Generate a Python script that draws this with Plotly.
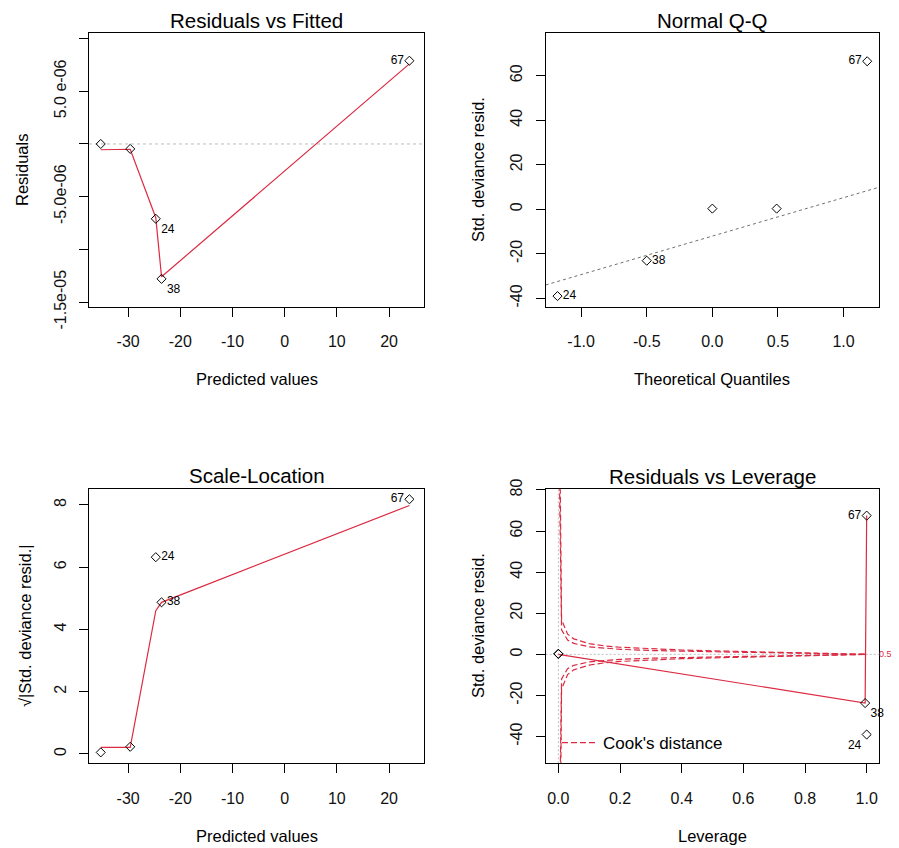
import plotly.graph_objects as go

# ---------------- data ----------------
fitted = [-35.25, -29.6, -24.7, -23.6, 23.9]
residuals = [0.0, -0.47e-6, -7.1e-6, -12.8e-6, 7.9e-6]
resid_smooth = [-0.55e-6, -0.5e-6, -7.0e-6, -12.6e-6, 7.6e-6]
point_ids = ["", "", "24", "38", "67"]

theo_q = [-1.18, -0.50, 0.0, 0.49, 1.18]
std_dev_resid_sorted = [-39.0, -23.1, 0.3, 0.3, 66.5]
qq_ids = ["24", "38", "", "", "67"]
qq_line_x = [-1.27, 1.27]
qq_line_y = [-34.0, 9.9]

sqrt_abs_resid = [0.05, 0.23, 6.32, 4.87, 8.18]
scale_smooth = [0.21, 0.21, 4.6, 4.87, 7.98]

leverage = [0.0, 0.0, 1.0, 0.995, 1.0]
std_dev_resid = [0.3, 0.2, -39.0, -23.7, 67.5]
lev_smooth_x = [0.0, 0.995, 1.0]
lev_smooth_y = [0.0, -23.7, 67.5]

cook_h = [0.0001, 0.0105, 0.03, 0.05, 0.1, 0.15, 0.2, 0.3, 0.4, 0.5, 0.6, 0.7, 0.8, 0.9, 1.0]
cook_05 = [122, 11.9, 6.96, 5.34, 3.67, 2.92, 2.45, 1.87, 1.5, 1.22, 1.0, 0.80, 0.61, 0.41, 0.0]
cook_1 = [173, 16.8, 9.85, 7.55, 5.2, 4.12, 3.46, 2.65, 2.12, 1.73, 1.41, 1.13, 0.87, 0.58, 0.0]

x_fit_ticks = [-30, -20, -10, 0, 10, 20]
x_fit_labels = ["-30", "-20", "-10", "0", "10", "20"]
y1_ticks = [1e-5, 5e-6, 0, -5e-6, -1e-5, -1.5e-5]
y1_labels = ["", "5.0 e-06", "", "-5.0e-06", "", "-1.5e-05"]
x2_ticks = [-1.0, -0.5, 0.0, 0.5, 1.0]
x2_labels = ["-1.0", "-0.5", "0.0", "0.5", "1.0"]
y2_ticks = [-40, -20, 0, 20, 40, 60]
y2_labels = ["-40", "-20", "0", "20", "40", "60"]
y3_ticks = [0, 2, 4, 6, 8]
y3_labels = ["0", "2", "4", "6", "8"]
x4_ticks = [0.0, 0.2, 0.4, 0.6, 0.8, 1.0]
x4_labels = ["0.0", "0.2", "0.4", "0.6", "0.8", "1.0"]
y4_ticks = [-40, -20, 0, 20, 40, 60, 80]
y4_labels = ["-40", "-20", "0", "20", "40", "60", "80"]

# ---------------- style ----------------
# the page body has an 8px margin, so the figure is sized to fill the rest of the window
OFF = 8
W, H = 899 - OFF, 848 - OFF
FONT = "Liberation Sans, Arial, sans-serif"
RED = "#DB2A42"
DASH = "6px,3px"

def px_x(p):
    return (p - OFF) / W

def px_y(p):
    return 1 - (p - OFF) / H

fig = go.Figure()

marker = dict(symbol="diamond-open", size=7, color="black", line=dict(width=1, color="black"))
lab_font = dict(family=FONT, size=12, color="black")

# Panel 1: Residuals vs Fitted
fig.add_trace(go.Scatter(x=fitted, y=resid_smooth, mode="lines", line=dict(color=RED, width=1.2),
                         xaxis="x", yaxis="y", showlegend=False, hoverinfo="skip"))
fig.add_trace(go.Scatter(x=fitted, y=residuals, mode="markers+text", marker=marker, text=point_ids,
                         textposition=["middle right", "middle right", "bottom right", "bottom right", "middle left"],
                         textfont=lab_font, xaxis="x", yaxis="y", showlegend=False, cliponaxis=False))

# Panel 2: Normal Q-Q
fig.add_trace(go.Scatter(x=qq_line_x, y=qq_line_y, mode="lines", line=dict(color="#707070", width=1, dash="3px,3px"),
                         xaxis="x2", yaxis="y2", showlegend=False, hoverinfo="skip"))
fig.add_trace(go.Scatter(x=theo_q, y=std_dev_resid_sorted, mode="markers+text", marker=marker, text=qq_ids,
                         textposition=["middle right", "middle right", "middle right", "middle right", "middle left"],
                         textfont=lab_font, xaxis="x2", yaxis="y2", showlegend=False, cliponaxis=False))

# Panel 3: Scale-Location
fig.add_trace(go.Scatter(x=fitted, y=scale_smooth, mode="lines", line=dict(color=RED, width=1.2),
                         xaxis="x3", yaxis="y3", showlegend=False, hoverinfo="skip"))
fig.add_trace(go.Scatter(x=fitted, y=sqrt_abs_resid, mode="markers+text", marker=marker, text=point_ids,
                         textposition=["middle right", "middle right", "middle right", "middle right", "middle left"],
                         textfont=lab_font, xaxis="x3", yaxis="y3", showlegend=False, cliponaxis=False))

# Panel 4: Residuals vs Leverage
for i, lev in enumerate([cook_05, cook_1]):
    fig.add_trace(go.Scatter(x=cook_h, y=lev, mode="lines", line=dict(color=RED, width=1.2, dash=DASH),
                             xaxis="x4", yaxis="y4", name="Cook's distance", showlegend=(i == 0),
                             hoverinfo="skip"))
    fig.add_trace(go.Scatter(x=cook_h, y=[-v for v in lev], mode="lines", line=dict(color=RED, width=1.2, dash=DASH),
                             xaxis="x4", yaxis="y4", showlegend=False, hoverinfo="skip"))
fig.add_trace(go.Scatter(x=lev_smooth_x, y=lev_smooth_y, mode="lines", line=dict(color=RED, width=1.2),
                         xaxis="x4", yaxis="y4", showlegend=False, hoverinfo="skip"))
fig.add_trace(go.Scatter(x=leverage, y=std_dev_resid, mode="markers+text", marker=marker, text=point_ids,
                         textposition=["middle right", "middle right", "bottom left", "bottom right", "middle left"],
                         textfont=lab_font, xaxis="x4", yaxis="y4", showlegend=False, cliponaxis=False))

# reference lines
fig.add_shape(type="line", xref="x domain", yref="y", x0=0, x1=1, y0=0, y1=0,
              line=dict(color="#BEBEBE", width=1, dash="3px,3px"), layer="below")
fig.add_shape(type="line", xref="x4 domain", yref="y4", x0=0, x1=1, y0=0, y1=0,
              line=dict(color="#BEBEBE", width=1, dash="2px,2px"), layer="below")
fig.add_shape(type="line", xref="x4", yref="y4 domain", x0=0, x1=0, y0=0, y1=1,
              line=dict(color="#BEBEBE", width=1, dash="2px,2px"), layer="below")

# ---------------- axes ----------------
colL = [px_x(89), px_x(424)]
colR = [px_x(545.7), px_x(879)]
rowT = [px_y(307), px_y(33)]
rowB = [px_y(763.3), px_y(489.3)]

def ax(domain, rng, tv, tt, anchor, is_y=False):
    d = dict(domain=domain, range=rng, tickmode="array", tickvals=tv, ticktext=tt,
             showline=True, mirror=True, linecolor="black", linewidth=1,
             ticks="outside", ticklen=9, tickcolor="black", tickwidth=1,
             showgrid=False, zeroline=False, anchor=anchor, automargin=False,
             tickfont=dict(family=FONT, size=16, color="#111"))
    if is_y:
        d["tickangle"] = -90
        d["ticklabelstandoff"] = 7
    else:
        d["ticklabelstandoff"] = 11
    return d

fig.update_layout(
    xaxis=ax(colL, [-37.5, 26.7], x_fit_ticks, x_fit_labels, "y"),
    yaxis=ax(rowT, [-1.547e-5, 1.053e-5], y1_ticks, y1_labels, "x", True),
    xaxis2=ax(colR, [-1.27, 1.27], x2_ticks, x2_labels, "y2"),
    yaxis2=ax(rowT, [-43.9, 79.2], y2_ticks, y2_labels, "x2", True),
    xaxis3=ax(colL, [-37.5, 26.7], x_fit_ticks, x_fit_labels, "y3"),
    yaxis3=ax(rowB, [-0.3, 8.5], y3_ticks, y3_labels, "x3", True),
    xaxis4=ax(colR, [-0.041, 1.04], x4_ticks, x4_labels, "y4"),
    yaxis4=ax(rowB, [-53, 80.3], y4_ticks, y4_labels, "x4", True),
)

# ---------------- titles / labels ----------------
ann = []
def text(x, y, s, size, angle=0, color="black", xanchor="center"):
    ann.append(dict(x=x, y=y, xref="paper", yref="paper", text=s, showarrow=False,
                    font=dict(family=FONT, size=size, color=color), textangle=angle,
                    xanchor=xanchor, yanchor="middle"))

cxL = (89 + 424) / 2
cxR = (545.7 + 879) / 2
text(px_x(cxL), px_y(21), "Residuals vs Fitted", 20.5)
text(px_x(cxR), px_y(21), "Normal Q-Q", 20.5)
text(px_x(cxL), px_y(475), "Scale-Location", 20.5)
text(px_x(cxR), px_y(476), "Residuals vs Leverage", 20.5)
text(px_x(cxL), px_y(379), "Predicted values", 16.5)
text(px_x(cxR), px_y(379), "Theoretical Quantiles", 16.5)
text(px_x(cxL), px_y(836), "Predicted values", 16.5)
text(px_x(cxR), px_y(836), "Leverage", 16.5)
text(px_x(22), px_y(170), "Residuals", 16.5, -90)
text(px_x(478), px_y(170), "Std. deviance resid.", 16.5, -90)
text(px_x(25), px_y(626), "√|Std. deviance resid.|", 16.5, -90)
text(px_x(478), px_y(626), "Std. deviance resid.", 16.5, -90)
fig.update_layout(annotations=ann)
fig.add_annotation(x=px_x(878), y=0, xref="paper", yref="y4", text="0.5", showarrow=False,
                   xanchor="left", yanchor="middle", borderpad=0,
                   font=dict(family=FONT, size=9, color=RED))

fig.update_layout(
    width=W, height=H, margin=dict(l=0, r=0, t=0, b=0, autoexpand=False),
    paper_bgcolor="white", plot_bgcolor="white",
    showlegend=True,
    legend=dict(x=px_x(557), y=px_y(743), xanchor="left", yanchor="middle",
                bgcolor="rgba(0,0,0,0)", borderwidth=0, itemwidth=36,
                font=dict(family=FONT, size=17, color="black")),
)

fig.write_html("out.html")
